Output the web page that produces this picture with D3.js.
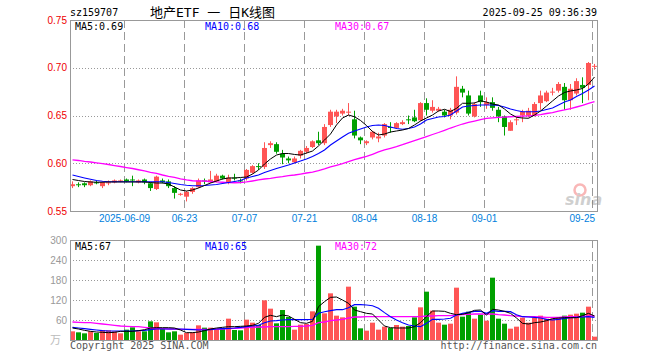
<!DOCTYPE html>
<html>
<head>
<meta charset="utf-8">
<script src="https://cdn.jsdelivr.net/npm/d3@7"></script>
<style>
  html, body { margin: 0; padding: 0; background: #fff; }
  svg { display: block; font-family: "DejaVu Sans Mono", "Noto Sans CJK SC", monospace; }
</style>
</head>
<body>
<svg id="chart" width="660" height="360"></svg>
<script>
// trading days 2025-05-26 .. 2025-09-25
const dates = [
  '05-26','05-27','05-28','05-29','05-30','06-03','06-04','06-05','06-06','06-09',
  '06-10','06-11','06-12','06-13','06-16','06-17','06-18','06-19','06-20','06-23',
  '06-24','06-25','06-26','06-27','06-30','07-01','07-02','07-03','07-04','07-07',
  '07-08','07-09','07-10','07-11','07-14','07-15','07-16','07-17','07-18','07-21',
  '07-22','07-23','07-24','07-25','07-28','07-29','07-30','07-31','08-01','08-04',
  '08-05','08-06','08-07','08-08','08-11','08-12','08-13','08-14','08-15','08-18',
  '08-19','08-20','08-21','08-22','08-25','08-26','08-27','08-28','08-29','09-01',
  '09-02','09-03','09-04','09-05','09-08','09-09','09-10','09-11','09-12','09-15',
  '09-16','09-17','09-18','09-19','09-22','09-23','09-24','09-25'
];

const open = [
  0.576,0.578,0.579,0.577,0.580,0.576,0.579,0.580,0.581,0.583,
  0.583,0.580,0.583,0.579,0.573,0.582,0.581,0.574,0.567,0.565,
  0.570,0.575,0.582,0.580,0.581,0.587,0.580,0.585,0.582,0.584,
  0.590,0.597,0.596,0.619,0.620,0.610,0.605,0.601,0.608,0.612,
  0.617,0.624,0.621,0.640,0.649,0.652,0.653,0.646,0.627,0.621,
  0.627,0.626,0.629,0.638,0.637,0.641,0.646,0.648,0.645,0.663,
  0.655,0.655,0.654,0.650,0.653,0.678,0.671,0.649,0.671,0.661,
  0.664,0.656,0.649,0.634,0.645,0.650,0.650,0.650,0.663,0.665,
  0.674,0.676,0.680,0.666,0.673,0.682,0.682,0.701
];
const high = [
  0.581,0.580,0.580,0.582,0.582,0.581,0.582,0.583,0.583,0.584,
  0.587,0.583,0.584,0.580,0.587,0.584,0.583,0.576,0.569,0.571,
  0.575,0.584,0.584,0.592,0.589,0.588,0.588,0.589,0.584,0.594,
  0.598,0.600,0.622,0.623,0.622,0.614,0.607,0.607,0.614,0.618,
  0.624,0.633,0.641,0.656,0.656,0.657,0.663,0.655,0.628,0.624,
  0.634,0.632,0.642,0.643,0.643,0.645,0.650,0.656,0.664,0.668,
  0.666,0.659,0.656,0.658,0.691,0.681,0.676,0.664,0.676,0.669,
  0.669,0.659,0.650,0.645,0.648,0.656,0.658,0.664,0.676,0.676,
  0.679,0.685,0.684,0.683,0.689,0.690,0.706,0.704
];
const low = [
  0.574,0.575,0.575,0.576,0.578,0.574,0.577,0.579,0.580,0.580,
  0.576,0.579,0.578,0.571,0.572,0.579,0.574,0.563,0.566,0.560,
  0.568,0.574,0.578,0.579,0.580,0.583,0.578,0.582,0.579,0.582,
  0.589,0.593,0.594,0.616,0.610,0.599,0.600,0.600,0.605,0.610,
  0.616,0.619,0.619,0.638,0.642,0.650,0.650,0.626,0.620,0.619,
  0.625,0.622,0.627,0.632,0.636,0.640,0.641,0.643,0.644,0.650,
  0.653,0.654,0.648,0.646,0.651,0.669,0.650,0.648,0.659,0.657,
  0.655,0.643,0.629,0.634,0.640,0.643,0.648,0.649,0.656,0.664,
  0.671,0.674,0.656,0.656,0.671,0.663,0.666,0.698
];
const close = [
  0.578,0.577,0.577,0.581,0.579,0.580,0.580,0.582,0.582,0.581,
  0.582,0.582,0.580,0.574,0.586,0.580,0.576,0.569,0.568,0.570,
  0.574,0.582,0.581,0.583,0.587,0.584,0.585,0.584,0.581,0.593,
  0.597,0.596,0.616,0.621,0.612,0.606,0.603,0.605,0.613,0.616,
  0.623,0.621,0.638,0.654,0.654,0.655,0.654,0.629,0.624,0.623,
  0.633,0.628,0.641,0.637,0.642,0.643,0.645,0.644,0.663,0.656,
  0.659,0.657,0.650,0.656,0.680,0.674,0.652,0.662,0.664,0.664,
  0.658,0.649,0.638,0.643,0.646,0.654,0.655,0.662,0.671,0.674,
  0.675,0.683,0.666,0.678,0.686,0.679,0.705,0.702
];

// volume, 万
const volume = [
  26,23,20,26,21,30,29,26,20,31,
  38,26,26,56,53,33,23,26,16,21,
  23,44,37,37,34,36,64,30,29,61,
  52,45,119,94,50,90,69,31,46,48,
  86,283,80,140,73,68,160,100,35,28,
  52,31,40,36,45,40,42,68,98,145,
  88,52,46,49,157,70,85,64,76,58,
  187,64,49,34,40,67,52,67,73,64,
  64,67,73,76,79,82,100,10
];

// moving averages
const ma5 = [
  0.5830,0.5819,0.5809,0.5804,0.5801,0.5801,0.5804,0.5804,0.5804,0.5804,
  0.5804,0.5804,0.5804,0.5798,0.5793,0.5793,0.5783,0.5751,0.5720,0.5709,
  0.5720,0.5741,0.5767,0.5793,0.5814,0.5835,0.5846,0.5846,0.5851,0.5856,
  0.5887,0.5929,0.5992,0.6045,0.6086,0.6102,0.6102,0.6092,0.6086,0.6107,
  0.6128,0.6181,0.6243,0.6306,0.6401,0.6474,0.6505,0.6487,0.6448,0.6395,
  0.6332,0.6296,0.6306,0.6327,0.6338,0.6348,0.6364,0.6401,0.6442,0.6474,
  0.6505,0.6547,0.6565,0.6542,0.6575,0.6628,0.6628,0.6631,0.6655,0.6641,
  0.6620,0.6610,0.6568,0.6516,0.6481,0.6474,0.6471,0.6505,0.6547,0.6599,
  0.6652,0.6704,0.6741,0.6757,0.6767,0.6783,0.6830,0.6903
];
const ma10 = [
  0.5877,0.5861,0.5846,0.5832,0.5819,0.5811,0.5807,0.5807,0.5807,0.5807,
  0.5807,0.5807,0.5807,0.5807,0.5807,0.5807,0.5798,0.5788,0.5777,0.5769,
  0.5765,0.5765,0.5767,0.5772,0.5777,0.5788,0.5798,0.5809,0.5819,0.5846,
  0.5861,0.5877,0.5903,0.5924,0.5945,0.5964,0.5982,0.6003,0.6024,0.6045,
  0.6071,0.6102,0.6139,0.6191,0.6233,0.6275,0.6314,0.6338,0.6359,0.6380,
  0.6395,0.6401,0.6395,0.6380,0.6364,0.6356,0.6364,0.6380,0.6411,0.6453,
  0.6469,0.6484,0.6490,0.6505,0.6547,0.6589,0.6599,0.6605,0.6610,0.6610,
  0.6610,0.6605,0.6589,0.6568,0.6552,0.6540,0.6540,0.6540,0.6547,0.6563,
  0.6579,0.6610,0.6641,0.6662,0.6699,0.6730,0.6767,0.6809
];
const ma30 = [
  0.6036,0.6029,0.6020,0.6013,0.6005,0.5997,0.5987,0.5976,0.5966,0.5955,
  0.5945,0.5932,0.5919,0.5905,0.5893,0.5877,0.5863,0.5851,0.5837,0.5825,
  0.5817,0.5814,0.5814,0.5809,0.5804,0.5801,0.5798,0.5796,0.5798,0.5804,
  0.5814,0.5825,0.5835,0.5842,0.5851,0.5859,0.5870,0.5877,0.5887,0.5898,
  0.5908,0.5922,0.5940,0.5961,0.5979,0.5997,0.6018,0.6039,0.6055,0.6071,
  0.6094,0.6118,0.6139,0.6157,0.6173,0.6194,0.6217,0.6238,0.6259,0.6280,
  0.6301,0.6322,0.6345,0.6369,0.6390,0.6411,0.6427,0.6442,0.6458,0.6471,
  0.6476,0.6481,0.6484,0.6487,0.6490,0.6493,0.6497,0.6502,0.6510,0.6521,
  0.6531,0.6547,0.6558,0.6573,0.6589,0.6605,0.6626,0.6645
];
const vma5 = [
  36,33,29,26,24,23,22,23,26,26,
  26,28,31,36,37,37,37,36,30,22,
  22,24,28,33,36,38,40,40,41,42,
  44,50,68,74,70,75,72,62,52,50,
  56,100,115,128,129,120,110,90,85,80,
  78,60,42,37,36,36,36,40,52,70,
  87,87,86,80,76,77,82,89,90,75,
  92,90,86,80,66,50,48,52,54,58,
  64,66,67,67,67,73,80,72
];
const vma10 = [
  38,36,34,32,30,28,27,27,27,27,
  27,28,29,31,33,33,33,33,33,32,
  31,30,30,31,33,34,35,36,38,40,
  42,44,52,57,58,60,61,61,61,61,
  62,80,85,88,91,91,97,106,106,105,
  103,95,82,70,60,52,45,42,40,50,
  62,62,63,65,75,80,83,86,86,80,
  88,86,86,85,76,70,69,68,66,62,
  60,62,65,67,68,69,70,68
];
const vma30 = [
  54,53,52,52,50,48,46,44,42,41,
  40,40,38,36,34,34,33,33,32,32,
  32,32,32,32,32,33,34,35,36,37,
  38,39,39,40,40,40,40,41,41,42,
  44,52,54,58,60,62,66,69,69,70,
  70,70,70,70,70,70,70,70,70,72,
  72,73,73,73,75,76,77,78,78,78,
  78,76,75,73,72,70,70,70,69,68,
  68,68,69,70,70,71,72,72
];

const priceTicks = [0.55, 0.60, 0.65, 0.70, 0.75];
const volTicks = [60, 120, 180, 240, 300];
const tickDates = ['06-09','06-23','07-07','07-21','08-04','08-18','09-01','09-25'];
const tickLabels = ['2025-06-09','06-23','07-07','07-21','08-04','08-18','09-01','09-25'];

const RED = '#ff5555', GREEN = '#00a000';
const L = 70, R = 597, T = 20, B = 211, VT = 240, VB = 340;

const svg = d3.select('#chart');

const x = d3.scaleBand().domain(dates).range([L, L + 6 * dates.length]).padding(0);
const y = d3.scaleLinear().domain([0.55, 0.75]).range([B, T]);
const vy = d3.scaleLinear().domain([0, 300]).range([VB, VT]);

const cx = d => x(d) + 2.5;
const up = i => close[i] >= open[i];
const snap = v => Math.round(v) + 0.5;

// header
svg.append('text').attr('x', 70).attr('y', 16).attr('font-size', 10).attr('fill', '#000').text('sz159707');
svg.append('text').attr('x', 150).attr('y', 17).attr('font-size', 13).attr('fill', '#000')
  .attr('xml:space', 'preserve').text('地产ETF 一 日K线图');
svg.append('text').attr('x', 597).attr('y', 16).attr('text-anchor', 'end')
  .attr('font-size', 10).attr('fill', '#000').text('2025-09-25 09:36:39');

// grid lines
function hgrid(vals, scale) {
  svg.append('g').selectAll('line').data(vals).join('line')
    .attr('x1', L).attr('x2', R)
    .attr('y1', d => snap(scale(d))).attr('y2', d => snap(scale(d)))
    .attr('stroke', '#999').attr('stroke-dasharray', '1,2');
}
hgrid([0.60, 0.65, 0.70], y);
hgrid([60, 120, 180, 240], vy);

function vgrid(top, bottom) {
  svg.append('g').selectAll('line').data(tickDates).join('line')
    .attr('x1', d => x(d) + 0.5).attr('x2', d => x(d) + 0.5)
    .attr('y1', top).attr('y2', bottom)
    .attr('stroke', '#999').attr('stroke-dasharray', '8,4');
}
vgrid(T, B);
vgrid(VT, VB);

// sina watermark
const wm = svg.append('g').attr('opacity', 0.35);
wm.append('circle').attr('cx', 580).attr('cy', 190).attr('r', 5.5)
  .attr('fill', 'none').attr('stroke', '#e33').attr('stroke-width', 2.5);
wm.append('text').attr('x', 565).attr('y', 205).attr('font-family', 'DejaVu Sans')
  .attr('font-size', 16).attr('font-weight', 'bold').attr('font-style', 'italic')
  .attr('fill', '#777').text('sina');

// candles
const cg = svg.append('g');
cg.selectAll('line').data(dates).join('line')
  .attr('x1', d => cx(d)).attr('x2', d => cx(d))
  .attr('y1', (d, i) => y(high[i])).attr('y2', (d, i) => y(low[i]))
  .attr('stroke', (d, i) => up(i) ? RED : GREEN);
cg.selectAll('rect').data(dates).join('rect')
  .attr('x', d => x(d)).attr('width', 5)
  .attr('y', (d, i) => y(Math.max(open[i], close[i])))
  .attr('height', (d, i) => Math.max(1, Math.abs(y(open[i]) - y(close[i]))))
  .attr('fill', (d, i) => up(i) ? RED : GREEN);

// volume bars
svg.append('g').selectAll('rect').data(dates).join('rect')
  .attr('x', d => x(d)).attr('width', 5)
  .attr('y', (d, i) => vy(volume[i]))
  .attr('height', (d, i) => VB - vy(volume[i]))
  .attr('fill', (d, i) => up(i) ? RED : GREEN);

// MA lines
function maLine(vals, scale, color, w) {
  const line = d3.line().x((d, i) => cx(dates[i])).y(d => scale(d));
  svg.append('path').datum(vals).attr('d', line)
    .attr('fill', 'none').attr('stroke', color).attr('stroke-width', w);
}
maLine(ma30, y, '#ff00ff', 1.3);
maLine(ma10, y, '#0000ff', 1.1);
maLine(ma5, y, '#000', 1);
maLine(vma30, vy, '#ff00ff', 1.3);
maLine(vma10, vy, '#0000ff', 1.1);
maLine(vma5, vy, '#000', 1);

// frames
[[T, B], [VT, VB]].forEach(([t, b]) => {
  svg.append('rect').attr('x', L + 0.5).attr('y', t + 0.5)
    .attr('width', R - L).attr('height', b - t)
    .attr('fill', 'none').attr('stroke', '#999');
});

// y axes
svg.append('g').attr('transform', `translate(${L},0)`)
  .call(d3.axisLeft(y).tickValues(priceTicks).tickFormat(d3.format('.2f')).tickSize(0).tickPadding(3))
  .call(ax => ax.select('.domain').remove())
  .call(ax => ax.selectAll('text').attr('font-size', 10).attr('font-family', null).attr('fill', '#e00'));

svg.append('g').attr('transform', `translate(${L},0)`)
  .call(d3.axisLeft(vy).tickValues(volTicks).tickSize(0).tickPadding(3))
  .call(ax => ax.select('.domain').remove())
  .call(ax => ax.selectAll('text').attr('font-size', 10).attr('font-family', null).attr('fill', '#999'));

svg.append('text').attr('x', 50).attr('y', 344).attr('font-size', 11).attr('fill', '#bbb').text('万');

// x axis labels
svg.append('g').attr('transform', `translate(-2.5,${B})`)
  .call(d3.axisBottom(x).tickValues(tickDates).tickFormat((d, i) => tickLabels[i]).tickSize(0).tickPadding(4))
  .call(ax => ax.select('.domain').remove())
  .call(ax => ax.selectAll('text').attr('font-size', 10).attr('font-family', null).attr('fill', '#0080dd'))
  .call(ax => ax.selectAll('text').filter(d => d === '09-25').attr('text-anchor', 'end').attr('x', 2.5));

// MA legends
function legend(yy, items) {
  items.forEach(([xx, txt, col]) => {
    svg.append('text').attr('x', xx).attr('y', yy).attr('font-size', 10).attr('fill', col).text(txt);
  });
}
legend(30, [[75, 'MA5:0.69', '#000'], [205, 'MA10:0.68', '#0000ff'], [335, 'MA30:0.67', '#ff00ff']]);
legend(250, [[75, 'MA5:67', '#000'], [205, 'MA10:65', '#0000ff'], [335, 'MA30:72', '#ff00ff']]);

// footer
svg.append('text').attr('x', 70).attr('y', 349).attr('font-size', 10).attr('fill', '#555').text('Copyright 2025 SINA.COM');
svg.append('text').attr('x', 597).attr('y', 349).attr('text-anchor', 'end')
  .attr('font-size', 10).attr('fill', '#555').text('http://finance.sina.com.cn');
</script>
</body>
</html>
